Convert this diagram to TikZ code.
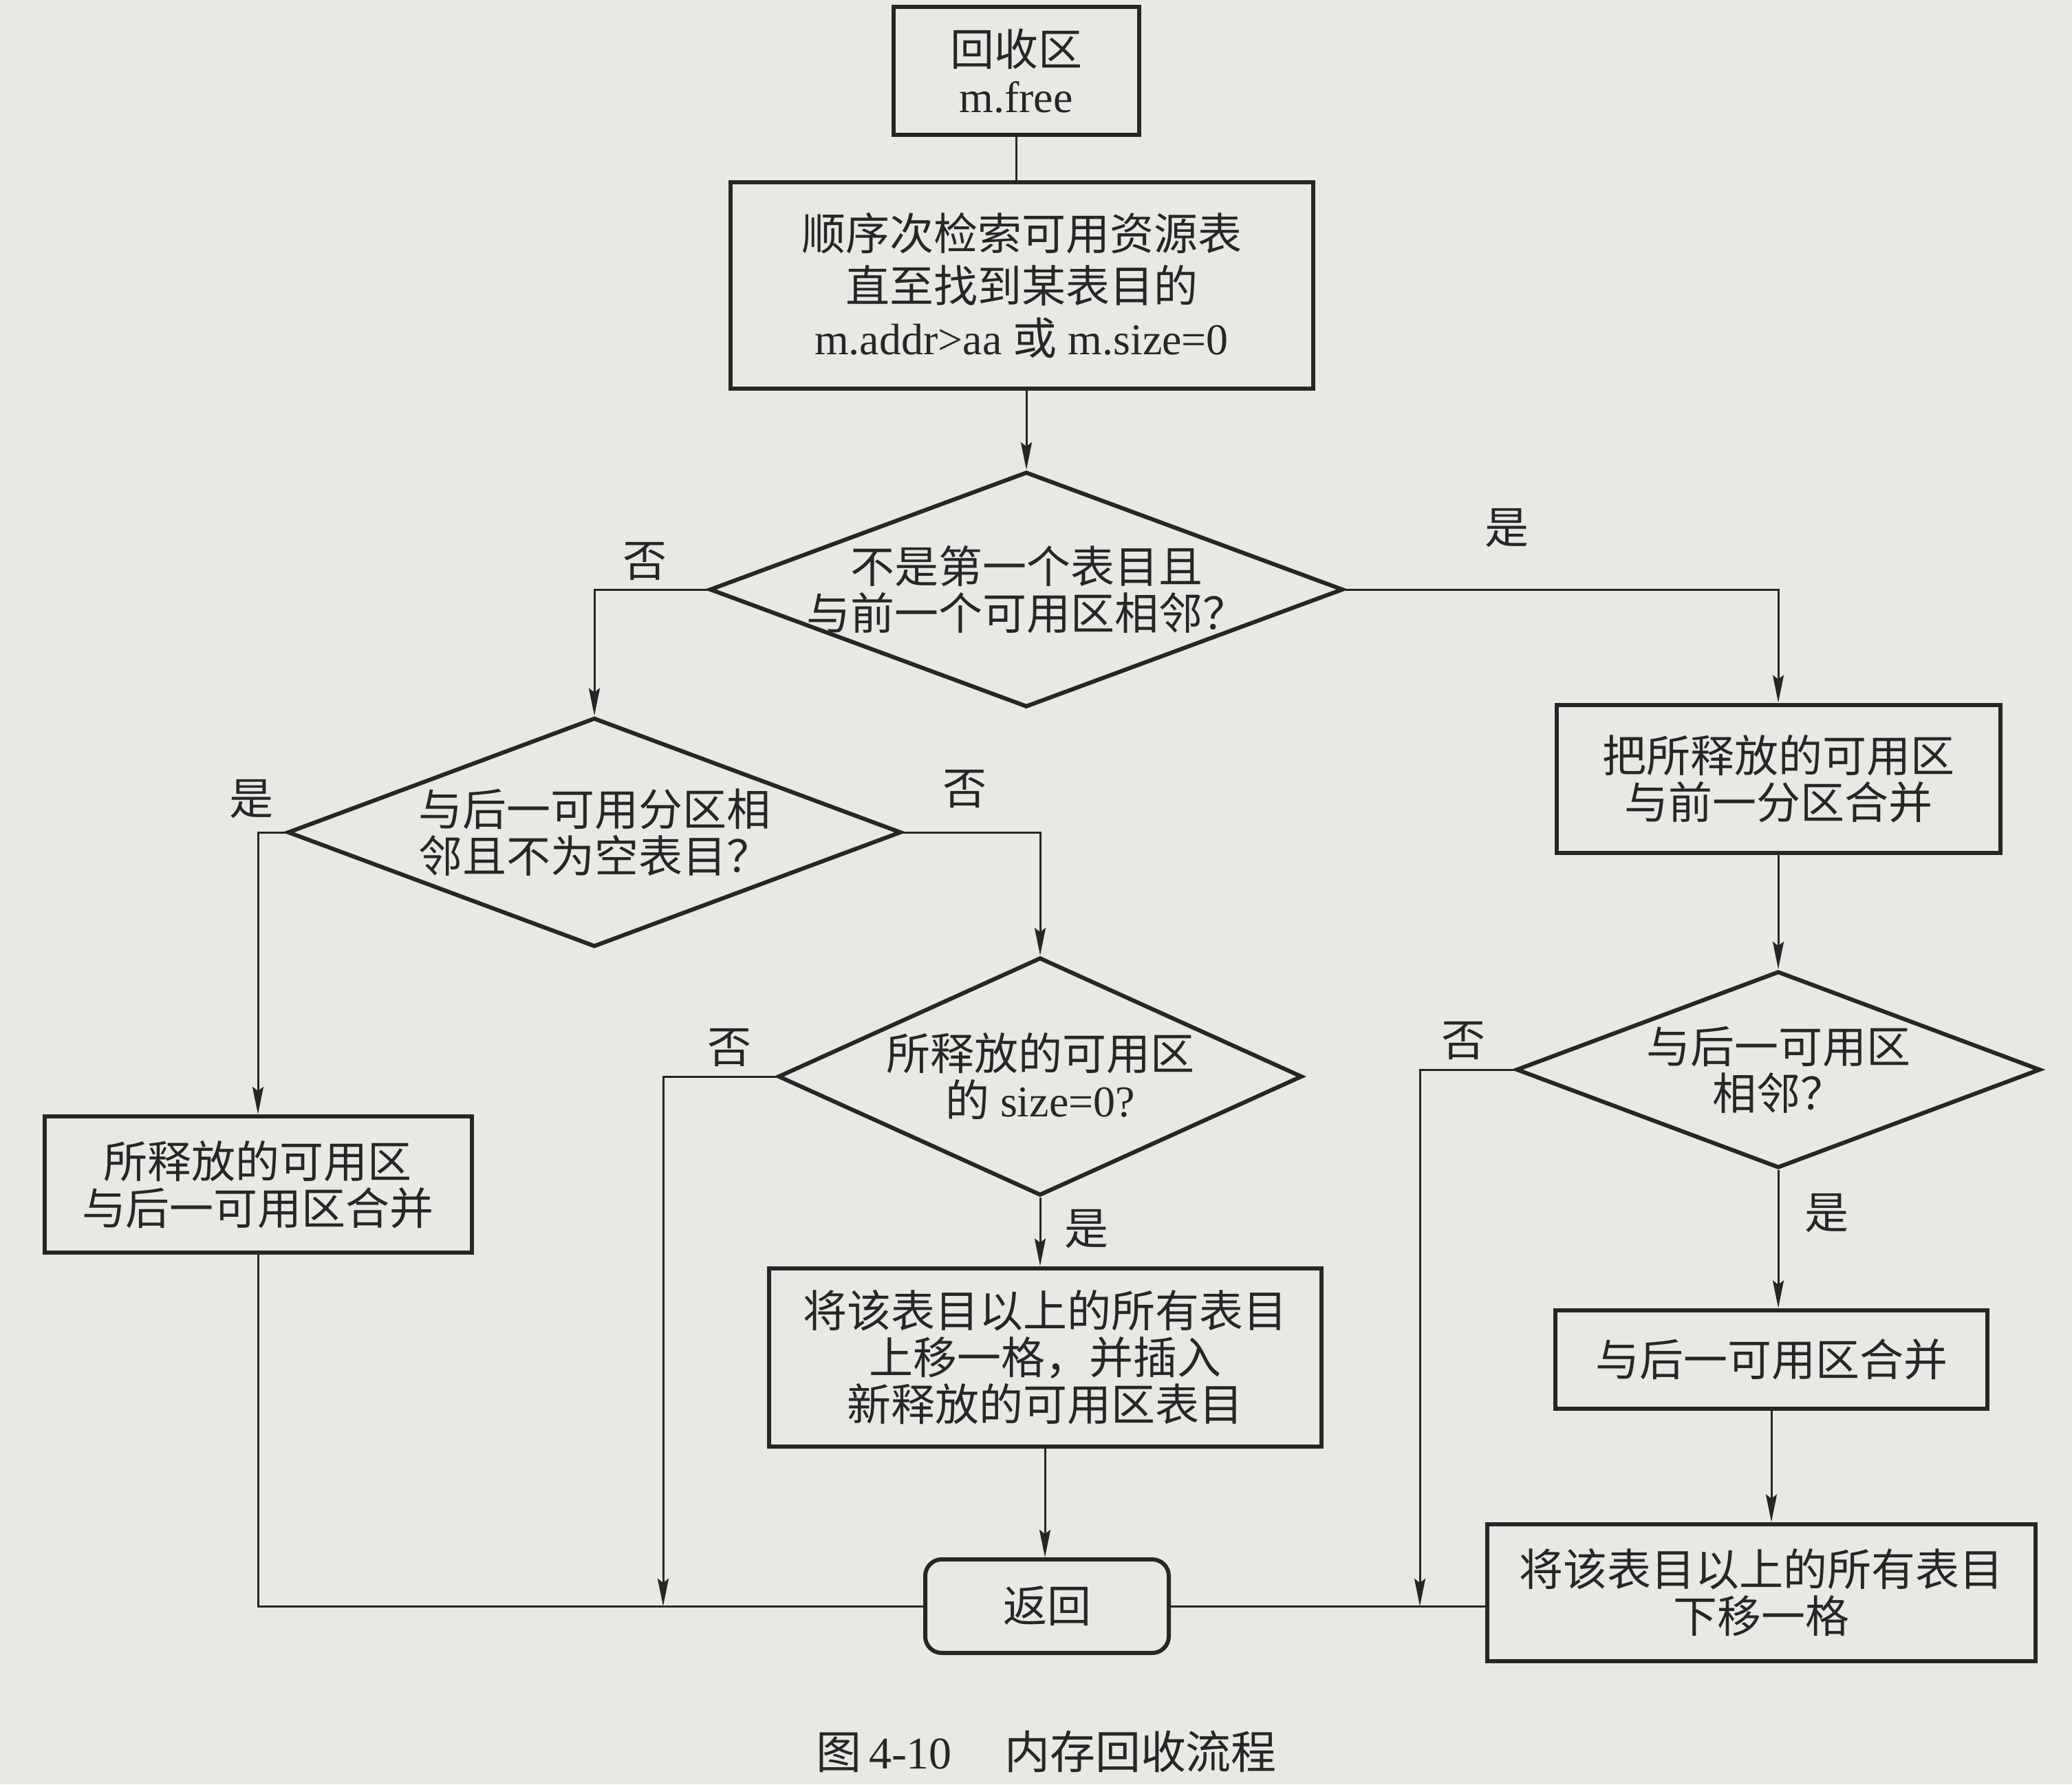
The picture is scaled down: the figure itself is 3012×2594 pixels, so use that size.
\documentclass[tikz,border=0pt]{standalone}
\usepackage{fontspec}
\setmainfont{Liberation Serif}
\newfontfamily\cjk{Noto Sans CJK SC}
\usetikzlibrary{shapes.geometric,arrows.meta}
\definecolor{paper}{HTML}{E8E8E5}
\definecolor{ink}{HTML}{262626}
\newcommand\pxu{0.25pt}
\begin{document}
\begin{tikzpicture}[x=0.25pt,y=-0.25pt,
  box/.style={draw=ink, text=ink, line width=1.5pt, rectangle, inner sep=0pt, align=center,
    font=\fontsize{16pt}{17pt}\selectfont},
  rbox/.style={box, rounded corners=6pt},
  dia/.style={draw=ink, line width=1.5pt, diamond, inner sep=0pt},
  txt/.style={text=ink, align=center, inner sep=0pt, font=\fontsize{16pt}{17pt}\selectfont},
  lab/.style={text=ink, inner sep=0pt, font=\cjk\fontsize{16pt}{17pt}\selectfont},
  conn/.style={draw=ink, line width=0.75pt},
  arr/.style={conn, -{Stealth[length=10pt,width=4pt,inset=1.5pt]}},
]
\fill[paper] (0,0) rectangle (3012,2594);
\useasboundingbox (0,0) rectangle (3012,2594);

% boxes
\node[box, minimum width=357*\pxu, minimum height=186*\pxu] (A) at (1477,103)
  {{\cjk 回收区}\\m.free};
\node[box, minimum width=847*\pxu, minimum height=300*\pxu,
  font=\fontsize{16pt}{19pt}\selectfont] (B) at (1485,415)
  {{\cjk 顺序次检索可用资源表}\\{\cjk 直至找到某表目的}\\m.addr>aa {\cjk 或} m.size=0};

\node[dia, minimum width=921*\pxu, minimum height=342*\pxu] (C) at (1492,857) {};
\node[txt] (Ct) at (C) {{\cjk 不是第一个表目且}\\{\cjk 与前一个可用区相邻？}};

\node[dia, minimum width=892*\pxu, minimum height=333*\pxu] (D) at (864,1210) {};
\node[txt] (Dt) at (D) {{\cjk 与后一可用分区相}\\{\cjk 邻且不为空表目？}};

\node[box, minimum width=621*\pxu, minimum height=198*\pxu] (E) at (375,1722)
  {{\cjk 所释放的可用区}\\{\cjk 与后一可用区合并}};

\node[dia, minimum width=762*\pxu, minimum height=346*\pxu] (F) at (1512,1565) {};
\node[txt] (Ft) at (F) {{\cjk 所释放的可用区}\\{\cjk 的} size=0?};

\node[box, minimum width=803*\pxu, minimum height=259*\pxu] (G) at (1519,1973)
  {{\cjk 将该表目以上的所有表目}\\{\cjk 上移一格，并插入}\\{\cjk 新释放的可用区表目}};

\node[rbox, minimum width=354*\pxu, minimum height=136*\pxu] (R) at (1522,2335)
  {{\cjk 返回}};

\node[box, minimum width=645*\pxu, minimum height=215*\pxu] (H) at (2585,1132)
  {{\cjk 把所释放的可用区}\\{\cjk 与前一分区合并}};

\node[dia, minimum width=762*\pxu, minimum height=286*\pxu] (I) at (2585,1555) {};
\node[txt] (It) at (I) {{\cjk 与后一可用区}\\{\cjk 相邻？}};

\node[box, minimum width=628*\pxu, minimum height=143*\pxu] (J) at (2575,1976)
  {{\cjk 与后一可用区合并}};

\node[box, minimum width=797*\pxu, minimum height=199*\pxu] (K) at (2560,2315)
  {{\cjk 将该表目以上的所有表目}\\{\cjk 下移一格}};

% junctions on the bottom line
\coordinate (jl) at (964,2335);
\coordinate (jr) at (2064,2335);

% connectors
\draw[conn] (A.south) -- (A.south |- B.north);
\draw[arr] (C.north |- B.south) -- (C.north);
\draw[arr] (C.west) -| (D.north);
\draw[arr] (C.east) -| (H.north);
\draw[arr] (D.west) -| (E.north);
\draw[arr] (D.east) -| (F.north);
\draw[arr] (F.south) -- (F.south |- G.north);
\draw[arr] (G.south) -- (G.south |- R.north);
\draw[arr] (F.west) -| (jl);
\draw[conn] (E.south) |- (R.west);
\draw[arr] (H.south) -- (I.north);
\draw[arr] (I.south) -- (I.south |- J.north);
\draw[arr] (J.south) -- (J.south |- K.north);
\draw[arr] (I.west) -| (jr);
\draw[conn] (R.east) -- (R.east -| K.west);

% branch labels
\node[lab] (l1) at (937,816) {否};
\node[lab] (l2) at (2190,768) {是};
\node[lab] (l3) at (365,1162) {是};
\node[lab] (l4) at (1402,1147) {否};
\node[lab] (l5) at (1060,1523) {否};
\node[lab] (l6) at (1579,1786) {是};
\node[lab] (l7) at (2127,1513) {否};
\node[lab] (l8) at (2655,1763) {是};

% caption
\node[txt, font=\fontsize{16.5pt}{18pt}\selectfont] (cap) at (1521,2546)
  {{\cjk 图}\,4-10\hspace{19pt}{\cjk 内存回收流程}};
\end{tikzpicture}
\end{document}
